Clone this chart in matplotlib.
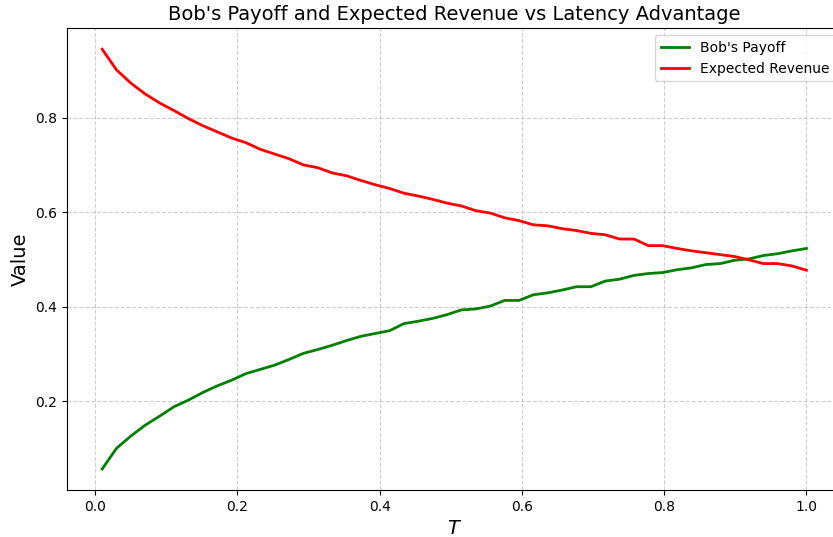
import matplotlib
matplotlib.use('Agg')
import matplotlib.pyplot as plt
import numpy as np

# latency advantage T
T = np.linspace(0.01, 1.0, 50)

bob_payoff = [0.056, 0.100, 0.126, 0.149, 0.168, 0.188, 0.202, 0.218, 0.232, 0.244,
              0.258, 0.267, 0.276, 0.288, 0.301, 0.309, 0.318, 0.328, 0.337, 0.343,
              0.349, 0.364, 0.369, 0.375, 0.383, 0.393, 0.395, 0.401, 0.413, 0.413,
              0.425, 0.429, 0.435, 0.442, 0.442, 0.454, 0.458, 0.466, 0.470, 0.472,
              0.478, 0.482, 0.489, 0.491, 0.498, 0.501, 0.508, 0.512, 0.518, 0.523]

expected_revenue = [0.945, 0.901, 0.873, 0.850, 0.831, 0.815, 0.798, 0.783, 0.770, 0.757,
                    0.747, 0.733, 0.723, 0.713, 0.700, 0.694, 0.683, 0.677, 0.667, 0.658,
                    0.650, 0.640, 0.634, 0.627, 0.619, 0.613, 0.603, 0.598, 0.588, 0.582,
                    0.573, 0.571, 0.565, 0.561, 0.555, 0.552, 0.543, 0.543, 0.529, 0.529,
                    0.523, 0.518, 0.514, 0.510, 0.506, 0.499, 0.491, 0.491, 0.486, 0.477]

fig = plt.figure(figsize=(8.33, 5.37), dpi=100)
ax = fig.add_axes([0.0804, 0.0875, 0.930, 0.860])

ax.plot(T, bob_payoff, color='green', linewidth=2, label="Bob's Payoff")
ax.plot(T, expected_revenue, color='red', linewidth=2, label='Expected Revenue')

ax.set_title("Bob's Payoff and Expected Revenue vs Latency Advantage", fontsize=14)
ax.set_xlabel('$T$', fontsize=14)
ax.set_ylabel('Value', fontsize=14)
ax.set_yticks([0.2, 0.4, 0.6, 0.8])
ax.grid(True, linestyle='--', alpha=0.6)
ax.legend(loc='upper right')

fig.savefig('out.png', dpi=100)
